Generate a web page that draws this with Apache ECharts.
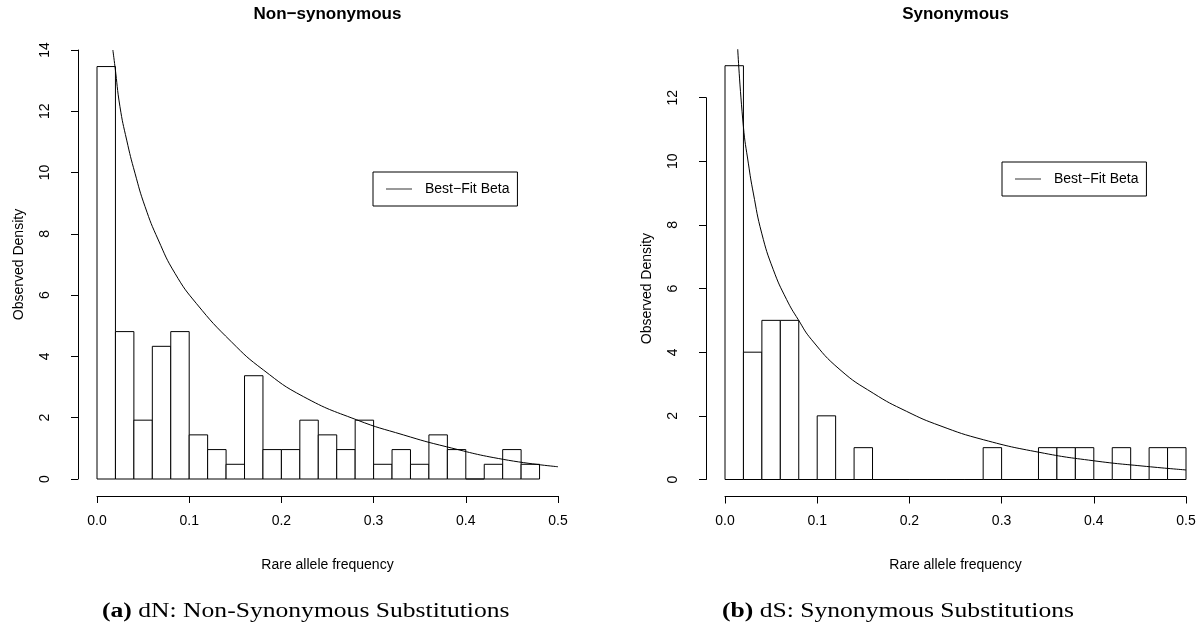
<!DOCTYPE html>
<html><head><meta charset="utf-8">
<script src="https://cdn.jsdelivr.net/npm/echarts@6/dist/echarts.min.js"></script>
<style>html,body{margin:0;padding:0;background:#fff}#c{width:1199px;height:623px}</style>
</head><body><div id="c"></div>
<script>
// ---------- data ----------
const binWidth = 0.02;
const binStartsNS = [0, 0.02, 0.04, 0.06, 0.08, 0.10, 0.12, 0.14, 0.16, 0.18, 0.20, 0.22,
                     0.24, 0.26, 0.28, 0.30, 0.32, 0.34, 0.36, 0.38, 0.40, 0.42, 0.44, 0.46];
const densityNS = [13.46, 4.81, 1.92, 4.33, 4.81, 1.44, 0.96, 0.48, 3.37, 0.96, 0.96, 1.92,
                   1.44, 0.96, 1.92, 0.48, 0.96, 0.48, 1.44, 0.96, 0, 0.48, 0.96, 0.48];
const binStartsS = [0, 0.02, 0.04, 0.06, 0.08, 0.10, 0.12, 0.14, 0.16, 0.18, 0.20, 0.22,
                    0.24, 0.26, 0.28, 0.30, 0.32, 0.34, 0.36, 0.38, 0.40, 0.42, 0.44, 0.46, 0.48];
const densityS = [13, 4, 5, 5, 0, 2, 0, 1, 0, 0, 0, 0,
                  0, 0, 1, 0, 0, 1, 1, 1, 0, 1, 0, 1, 1];
const curveXNS = [0.0172, 0.0195, 0.0249, 0.0322, 0.0412, 0.0521, 0.0665, 0.0846, 0.108,
                  0.146, 0.1804, 0.2238, 0.2817, 0.3322, 0.3793, 0.4407, 0.50];
const curveYNS = [14.0, 13.46, 12.15, 11.06, 9.98, 8.89, 7.80, 6.71, 5.72,
                  4.47, 3.56, 2.69, 1.93, 1.44, 1.05, 0.64, 0.40];
const curveXS = [0.0138, 0.0199, 0.0253, 0.0307, 0.0398, 0.0524, 0.0669, 0.0795, 0.094, 0.1247,
                 0.1608, 0.197, 0.2332, 0.2802, 0.3416, 0.3995, 0.4574, 0.50];
const curveYS = [13.52, 11.1, 9.94, 9.0, 7.74, 6.59, 5.65, 5.02, 4.39, 3.45,
                 2.71, 2.14, 1.69, 1.25, 0.85, 0.59, 0.41, 0.30];
const panelTitles = ['Non\u2212synonymous', 'Synonymous'];
const captions = [['(a)', ' dN: Non-Synonymous Substitutions'], ['(b)', ' dS: Synonymous Substitutions']];
const xAxisTitle = 'Rare allele frequency';
const yAxisTitle = 'Observed Density';
const legendName = 'Best\u2212Fit Beta';
const yAxisMaxNS = 14, yAxisMaxS = 12;

// ---------- layout ----------
const SANS = '"Liberation Sans", Arial, Helvetica, sans-serif';
const SERIF = '"Liberation Serif", "Times New Roman", serif';
const panels = [
  {left: 97, dataTop: 50, dataH: 429, dataMax: 14.0, axTop: 50, axH: 429, axMax: yAxisMaxNS,
   bins: binStartsNS, dens: densityNS, cx: curveXNS, cy: curveYNS, title: panelTitles[0],
   legLeft: 373, legTop: 172, capX: 102, capAlign: 'left', cap: captions[0]},
  {left: 725, dataTop: 49, dataH: 430.5, dataMax: 430.5 / 31.83, axTop: 97.7, axH: 381.8, axMax: yAxisMaxS,
   bins: binStartsS, dens: densityS, cx: curveXS, cy: curveYS, title: panelTitles[1],
   legLeft: 1002, legTop: 162, capX: 898, capAlign: 'center', cap: captions[1]}
];
const W = 461;

const grid = [], xAxis = [], yAxis = [], series = [], legend = [], graphic = [];
panels.forEach((p, i) => {
  grid.push({left: p.left, top: p.dataTop, width: W, height: p.dataH});
  grid.push({left: p.left, top: p.axTop, width: W, height: p.axH});
  const gData = 2 * i, gAx = 2 * i + 1;
  xAxis.push({
    gridIndex: gData, type: 'value', min: 0, max: 0.5, interval: 0.1, offset: 17,
    axisLine: {show: true, onZero: false, lineStyle: {color: '#000', width: 1}},
    axisTick: {show: true, length: 7, lineStyle: {color: '#000'}},
    axisLabel: {fontSize: 14, fontFamily: SANS, color: '#000', margin: 18,
                formatter: v => v.toFixed(1)},
    splitLine: {show: false},
    name: xAxisTitle, nameLocation: 'middle', nameGap: 62,
    nameTextStyle: {fontSize: 14, fontFamily: SANS, color: '#000'}
  });
  xAxis.push({gridIndex: gAx, type: 'value', min: 0, max: 0.5, show: false});
  yAxis.push({gridIndex: gData, type: 'value', min: 0, max: p.dataMax, show: false});
  yAxis.push({
    gridIndex: gAx, type: 'value', min: 0, max: p.axMax, interval: 2, offset: 19,
    axisLine: {show: true, onZero: false, lineStyle: {color: '#000', width: 1}},
    axisTick: {show: true, length: 7, lineStyle: {color: '#000'}},
    axisLabel: {fontSize: 14, fontFamily: SANS, color: '#000', margin: 26, rotate: 90},
    splitLine: {show: false},
    name: yAxisTitle, nameLocation: 'middle', nameGap: 52,
    nameTextStyle: {fontSize: 14, fontFamily: SANS, color: '#000'}
  });
  series.push({
    type: 'custom', xAxisIndex: gData, yAxisIndex: gData,
    data: p.bins.map((b, k) => [b, b + binWidth, p.dens[k]]),
    encode: {x: [0, 1], y: 2},
    renderItem: (params, api) => {
      const a = api.coord([api.value(0), api.value(2)]);
      const b = api.coord([api.value(1), 0]);
      return {type: 'rect',
        shape: {x: a[0], y: a[1], width: b[0] - a[0], height: b[1] - a[1]},
        style: {fill: '#fff', stroke: '#000', lineWidth: 1}};
    },
    silent: true, z: 2
  });
  series.push({
    type: 'line', name: legendName, xAxisIndex: gData, yAxisIndex: gData,
    data: p.cx.map((x, k) => [x, p.cy[k]]),
    showSymbol: false, symbol: 'none', smooth: 0.5,
    lineStyle: {color: '#000', width: 1}, itemStyle: {color: '#000'},
    clip: true, z: 3, animation: false
  });
  legend.push({
    data: [legendName], left: p.legLeft, top: p.legTop, orient: 'horizontal',
    borderColor: '#000', borderWidth: 1, borderRadius: 0, padding: [10, 8, 10, 13],
    icon: 'rect', itemWidth: 26, itemHeight: 1, selectedMode: false,
    itemStyle: {color: '#333'},
    textStyle: {fontSize: 14, fontFamily: SANS, color: '#000', padding: [0, 0, 0, 8], lineHeight: 14}
  });
  graphic.push({
    type: 'text',
    style: {text: p.title, x: p.left + W / 2, y: 14, align: 'center', verticalAlign: 'middle',
            font: 'bold 17px ' + SANS, fill: '#000'}
  });
  graphic.push({type: 'text', x: p.capX, y: 612, scaleX: 1.28, scaleY: 1,
    style: {x: 0, y: 0, verticalAlign: 'middle', align: p.capAlign,
      text: '{b|' + p.cap[0] + '}' + p.cap[1],
      rich: {b: {fontWeight: 'bold', fontFamily: SERIF, fontSize: 20}},
      fontFamily: SERIF, fontSize: 20, fill: '#000'}});
});

const chart = echarts.init(document.getElementById('c'), null, {renderer: 'canvas'});
chart.setOption({animation: false, backgroundColor: '#fff', grid, xAxis, yAxis, series, legend, graphic});
</script></body></html>
